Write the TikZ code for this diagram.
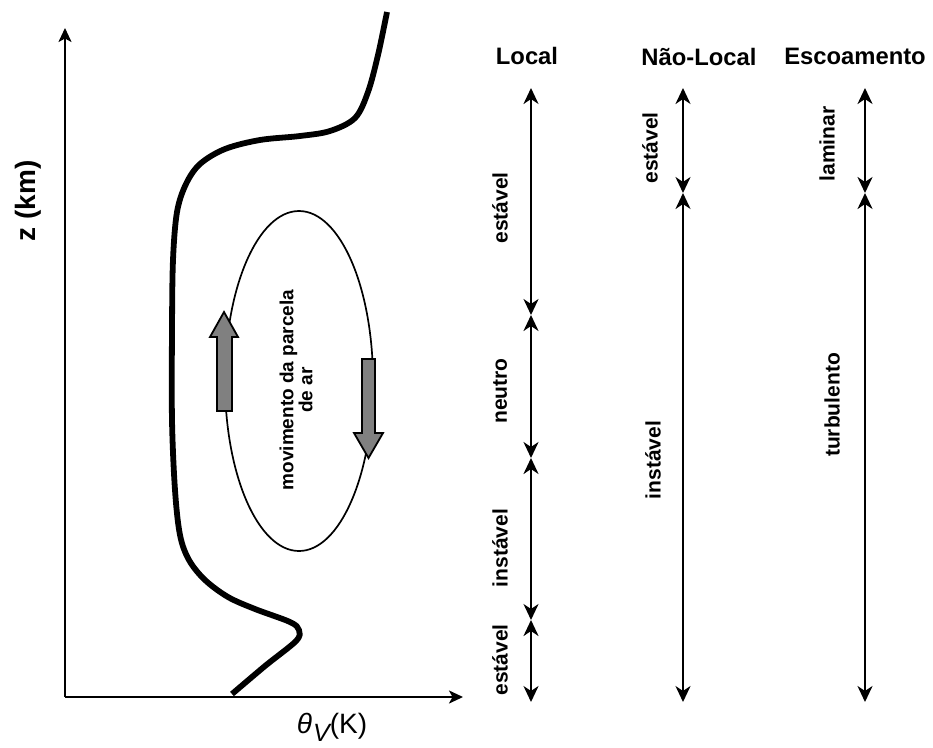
\documentclass[tikz,border=0pt]{standalone}
\usepackage{fontspec}
\setmainfont{Liberation Sans}
\usetikzlibrary{arrows.meta}
\begin{document}
\begin{tikzpicture}[x=1pt,y=-1pt,
  axis/.style={line width=2.1pt,-{Stealth[length=14pt,width=13pt,inset=3.5pt]}},
  span/.style={line width=2.4pt,{Stealth[length=16pt,width=15pt,inset=5pt]}-{Stealth[length=16pt,width=15pt,inset=5pt]}},
  title/.style={font=\bfseries\fontsize{23.8}{28}\selectfont},
  lab/.style={font=\bfseries\fontsize{21}{25}\selectfont,rotate=90},
  fat/.style={draw=black,line width=1.8pt,fill=black!50}]
\useasboundingbox (0,0) rectangle (933,747);
% axes
\coordinate (o) at (65,697);
\coordinate (ytop) at (65,28);
\coordinate (xend) at (463,697);
\draw[axis] (o) -- (ytop);
\draw[axis] (o) -- (xend);
\node[font=\bfseries\fontsize{28}{32}\selectfont,rotate=90] (zl) at (28,201) {z (km)};
\node[font=\fontsize{28}{32}\selectfont,anchor=base] (tl) at (332,733) {\itshape θ\kern1pt\raisebox{-0.3em}{\fontsize{25}{28}\selectfont\itshape V}\upshape(K)};
% profile
\draw[line width=5.8pt,line join=round] plot[smooth,tension=0.55] coordinates {
 (232,694) (265,666) (296,641) (299,630) (290,622) (255,609) (228,597) (205,580) (189,560) (180,535) (175,490) (172,420) (172,330) (173,260) (177,212) (186,184) (200,164) (225,149) (260,140) (300,136) (330,131) (355,118) (368,92) (378,55) (387,12)};
% ellipse
\coordinate (e) at (299,381);
\draw[line width=1.7pt] (e) ellipse[x radius=74, y radius=170];
\node[font=\bfseries\fontsize{19}{19}\selectfont,rotate=90,align=center] (mv) at (296,390) {movimento da parcela\\de ar};
% block arrows
\draw[fat] (217,411) -- (217,337) -- (210,337) -- (224,312) -- (238,337) -- (232,337) -- (232,411) -- cycle;
\draw[fat] (362,359) -- (362,433) -- (354,433) -- (368.5,458) -- (383,433) -- (375,433) -- (375,359) -- cycle;
% titles
\node[title] (t1) at (527,56) {Local};
\node[title] (t2) at (699,57) {Não-Local};
\node[title] (t3) at (855,56) {Escoamento};
% Local
\coordinate (l0) at (531,88);
\coordinate (l1) at (531,315);
\coordinate (l2) at (531,458);
\coordinate (l3) at (531,620);
\coordinate (l4) at (531,702);
\draw[span] (l0) -- (l1);
\draw[span] (l1) -- (l2);
\draw[span] (l2) -- (l3);
\draw[span] (l3) -- (l4);
\node[lab] (a1) at (500,208) {estável};
\node[lab] (a2) at (500,391) {neutro};
\node[lab] (a3) at (500,548) {instável};
\node[lab] (a4) at (500,660) {estável};
% Nao-Local
\coordinate (n0) at (683,88);
\coordinate (n1) at (683,193);
\coordinate (n2) at (683,702);
\draw[span] (n0) -- (n1);
\draw[span] (n1) -- (n2);
\node[lab] (b1) at (650,148) {estável};
\node[lab] (b2) at (653,460) {instável};
% Escoamento
\coordinate (s0) at (865,88);
\coordinate (s1) at (865,193);
\coordinate (s2) at (865,702);
\draw[span] (s0) -- (s1);
\draw[span] (s1) -- (s2);
\node[lab] (c1) at (827,144) {laminar};
\node[lab] (c2) at (832,405) {turbulento};
\end{tikzpicture}
\end{document}
